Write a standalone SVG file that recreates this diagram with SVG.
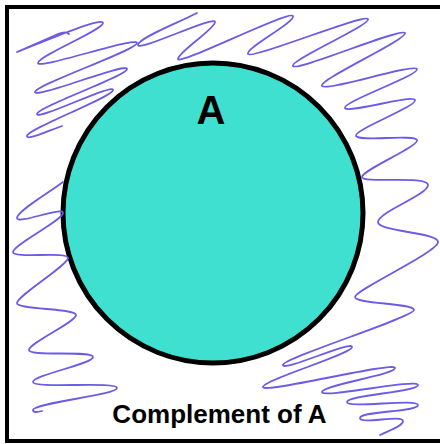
<svg xmlns="http://www.w3.org/2000/svg" width="440" height="444" viewBox="0 0 440 444">
<style>
.scr{fill:none;stroke:#6b5be6;stroke-width:1.8;stroke-linecap:round;stroke-linejoin:round}
.lbl{font-family:"Liberation Sans",Arial,sans-serif;font-weight:bold;fill:#000;text-anchor:middle}
</style>
<rect x="7" y="7" width="440" height="434" fill="#fff" stroke="#000" stroke-width="4"/>
<g id="setA">
<circle cx="213" cy="213" r="150" fill="#40e0d0" stroke="#000" stroke-width="5"/>
<text class="lbl" x="211" y="124" font-size="40">A</text>
</g>
<g id="complement">
<path class="scr" d="M69,34 C67,32 63,32 58,34 L17,52 C40,43 103,16 103,23 C103,30 38,56 38,63 C38,70 137,36 137,43 C137,50 35,85 35,92 C35,99 127,62 127,69 C127,76 37,107 37,114 C37,121 113,83 113,90 C113,97 27,129 27,136 C27,141 50,130 62,126"/>
<path class="scr" d="M197,13 C180,22 138,38 138,45 C138,52 215,15 215,22 C215,29 178,52 178,59 C178,66 289,10 293,16 C296,22 245,48 248,54 C251,60 365,13 368,19 C371,25 290,60 293,66 C296,72 402,27 405,33 C408,39 318,80 322,86 C326,92 414,63 417,69 C420,75 342,102 345,108 C348,114 412,94 415,100 C418,106 353,130 356,136 C359,142 414,134 417,140 C420,146 362,170 362,177 C362,184 428,175 428,185 C428,195 378,212 378,222 C378,232 438,232 438,242 C438,252 355,290 355,297 C355,304 414,303 414,310 C414,317 283,358 283,365 C283,372 352,340 352,347 C352,354 263,380 263,387 C263,394 395,361 395,368 C395,375 322,385 322,392 C322,399 418,378 418,385 C418,392 347,395 347,402 C347,409 418,398 418,405 C418,412 360,411 360,418 C360,425 403,414 403,421 C403,426 390,430 380,435"/>
<path class="scr" d="M63,182 C50,192 17,211 17,218 C17,225 63,206 63,213 C63,220 13,245 13,252 C13,259 68,251 68,258 C68,265 17,296 17,303 C17,310 76,308 76,315 C76,322 29,343 29,350 C29,357 93,350 93,357 C93,364 33,375 33,382 C33,389 117,381 117,388 C117,395 33,403 33,410 C33,413 38,412 42,411"/>
<text class="lbl" x="219.5" y="423" font-size="26">Complement of A</text>
</g>
</svg>
